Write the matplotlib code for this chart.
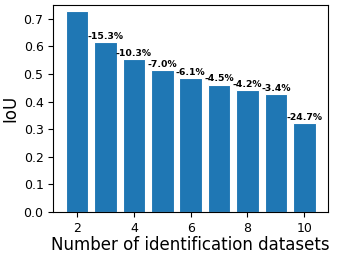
import numpy as np
import matplotlib.pyplot as plt

# 数据：识别数据集数量 vs IoU，以及相对上一个的下降比例
n_datasets = [2, 3, 4, 5, 6, 7, 8, 9, 10]
iou = [0.728, 0.617, 0.553, 0.515, 0.484, 0.462, 0.443, 0.428, 0.322]
drop_labels = ["", "-15.3%", "-10.3%", "-7.0%", "-6.1%", "-4.5%", "-4.2%", "-3.4%", "-24.7%"]


def main():
    fig, ax = plt.subplots(figsize=(3.39, 2.56), dpi=100)

    bars = ax.bar(n_datasets, iou, width=0.8, color="#1f77b4", edgecolor="white", linewidth=0.8)
    for rect, text in zip(bars, drop_labels):
        if not text:
            continue
        ax.text(rect.get_x() + rect.get_width() / 2, rect.get_height() + 0.004, text,
                ha="center", va="bottom", fontsize=6.7, fontweight="bold")

    ax.set_ylim(0, 0.75)
    ax.set_xticks([2, 4, 6, 8, 10])
    ax.set_yticks(np.arange(0, 0.71, 0.1))
    ax.tick_params(labelsize=9)
    ax.set_xlabel("Number of identification datasets", fontsize=12, labelpad=1)
    ax.set_ylabel("IoU", fontsize=12, labelpad=3)

    fig.subplots_adjust(left=0.157, right=0.968, top=0.98, bottom=0.172)
    fig.savefig("out.png", dpi=100)


if __name__ == "__main__":
    main()
